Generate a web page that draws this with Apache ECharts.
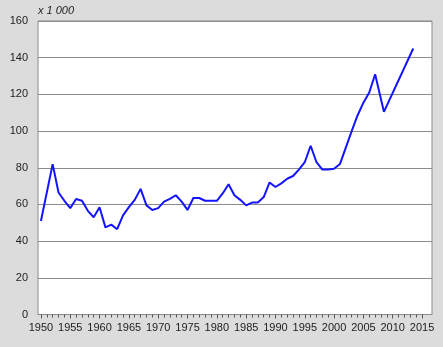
<!DOCTYPE html>
<html>
<head>
<meta charset="utf-8">
<script src="https://cdn.jsdelivr.net/npm/echarts@6/dist/echarts.min.js"></script>
<style>
html,body{margin:0;padding:0;background:#fff;}
#c{width:443px;height:347px;}
</style>
</head>
<body>
<div id="c"></div>
<script>
// Data (values x 1 000)
const years = [1950,1952,1953,1954,1955,1956,1957,1958,1959,1960,1961,1962,1963,1964,1965,1966,1967,1968,1969,1970,1971,1972,1973,1974,1975,1976,1977,1978,1979,1980,1981,1982,1983,1984,1985,1986,1987,1988,1989,1990,1991,1992,1993,1994,1995,1996,1997,1998,1999,2000,2001,2002,2003,2004,2005,2006,2007,2008.5,2013.5];
const values = [51,82,66.5,62,58,63,62,56.5,53,58.5,47.5,49,46.5,54,58.5,62.5,68.5,59.5,57,58,61.5,63,65,61.5,57,63.5,63.5,62,62,62,66,71,65,62.5,59.5,61,61,64,72,69.5,71.5,74,75.5,79,83,92,83,79,79,79.5,82,91,100,108.5,115.5,121,131,110.5,145];
const yTicks = [0,20,40,60,80,100,120,140,160];
const xLabelYears = [1950,1955,1960,1965,1970,1975,1980,1985,1990,1995,2000,2005,2010,2015];
const unitLabel = 'x 1 000';

const W = 443, H = 347;
const plotLeft = 38, plotRight = 432, plotTop = 21, plotBottom = 314.5;
const xMin = 1949.5, xMax = 2016.7;
const pxPerYear = (plotRight - plotLeft) / (xMax - xMin);
const xFirst = xLabelYears[0], xLast = xLabelYears[xLabelYears.length - 1];
const tickLeft = plotLeft + (xFirst - xMin) * pxPerYear;
const tickRight = plotLeft + (xLast - xMin) * pxPerYear;

const font = 'Liberation Sans, Arial, sans-serif';
const chart = echarts.init(document.getElementById('c'), null, {renderer: 'canvas'});
chart.setOption({
  animation: false,
  backgroundColor: '#dcdcdc',
  graphic: [{
    type: 'text', left: plotLeft, top: 5,
    style: {text: unitLabel, font: 'italic 11px ' + font, fill: '#222'}
  }],
  grid: [
    {left: plotLeft, right: W - plotRight, top: plotTop, bottom: H - plotBottom,
     show: true, backgroundColor: '#ffffff', borderColor: '#8c8c8c', borderWidth: 1},
    {left: tickLeft, right: W - tickRight, top: plotTop, bottom: H - plotBottom, show: false}
  ],
  xAxis: [
    {type: 'value', gridIndex: 0, min: xMin, max: xMax,
     axisLine: {show: true, lineStyle: {color: '#8c8c8c'}}, axisTick: {show: false},
     axisLabel: {show: false}, splitLine: {show: false}},
    {type: 'value', gridIndex: 1, min: xFirst, max: xLast, interval: 5,
     axisLine: {show: false},
     axisTick: {show: true, length: 4, lineStyle: {color: '#555'}},
     minorTick: {show: true, splitNumber: 5, length: 3, lineStyle: {color: '#555'}},
     axisLabel: {show: true, color: '#222', fontSize: 11, fontFamily: font, margin: 8,
       formatter: v => String(v)},
     splitLine: {show: false}}
  ],
  yAxis: [
    {type: 'value', gridIndex: 0, min: yTicks[0], max: yTicks[yTicks.length - 1], interval: 20,
     axisLine: {show: false}, axisTick: {show: false},
     axisLabel: {color: '#222', fontSize: 11, fontFamily: font, margin: 10},
     splitLine: {show: true, lineStyle: {color: '#8c8c8c', width: 1}}},
    {type: 'value', gridIndex: 1, min: 0, max: 160, show: false}
  ],
  series: [{
    type: 'line', xAxisIndex: 0, yAxisIndex: 0,
    data: years.map((y, i) => [y, values[i]]),
    showSymbol: false, symbol: 'none',
    lineStyle: {color: '#1414ff', width: 2},
    z: 5
  }]
});
</script>
</body>
</html>
